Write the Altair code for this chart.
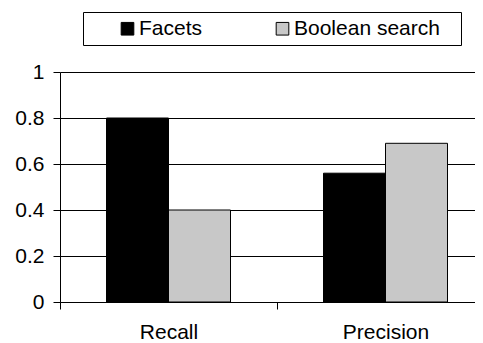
import altair as alt
import pandas as pd

categories = ["Recall", "Precision"]
series = ["Facets", "Boolean search"]
facets_values = [0.80, 0.56]
boolean_values = [0.40, 0.69]
y_ticks = [0, 0.2, 0.4, 0.6, 0.8, 1]
colors = ["#000000", "#c8c8c8"]

rows = []
for cat, f, b in zip(categories, facets_values, boolean_values):
    rows.append({"measure": cat, "method": series[0], "value": f})
    rows.append({"measure": cat, "method": series[1], "value": b})
df = pd.DataFrame(rows)

FONT = "Liberation Sans"
FS = 21

chart = (
    alt.Chart(df)
    .mark_bar(stroke="black", strokeWidth=1)
    .encode(
        x=alt.X(
            "measure:N",
            sort=categories,
            scale=alt.Scale(paddingInner=0, paddingOuter=0, range=[0, 434]),
            axis=alt.Axis(
                title=None,
                labelAngle=0,
                tickBand="extent",
                tickSize=7,
                labelBaseline="alphabetic",
                labelPadding=29,
                grid=False,
            ),
        ),
        xOffset=alt.XOffset(
            "method:N",
            sort=series,
            scale=alt.Scale(paddingInner=0, paddingOuter=0.75),
        ),
        y=alt.Y(
            "value:Q",
            scale=alt.Scale(domain=[0, 1], nice=False),
            axis=alt.Axis(
                title=None,
                values=y_ticks,
                format=".1~f",
                tickSize=7,
                labelPadding=9,
                grid=True,
                gridColor="black",
                gridOpacity=1,
                gridWidth=1,
            ),
        ),
        color=alt.Color(
            "method:N",
            sort=series,
            scale=alt.Scale(domain=series, range=colors),
            legend=alt.Legend(
                orient="none",
                legendX=23,
                legendY=-60,
                direction="horizontal",
                columns=2,
                title="\u00a0",
                titleOrient="left",
                titleFontSize=FS,
                titlePadding=28,
                symbolType="square",
                symbolSize=160,
                symbolStrokeColor="black",
                symbolStrokeWidth=1,
                labelFontSize=FS,
                labelFont=FONT,
                labelColor="black",
                labelOffset=1,
                labelLimit=400,
                labelExpr="datum.label == 'Boolean search' ? datum.label + '\u2800' : datum.label",
                columnPadding=69,
                padding=6,
                strokeColor="black",
                fillColor="white",
            ),
        ),
    )
    .properties(
        width=415,
        height=230,
        background="white",
        autosize=alt.AutoSizeParams(type="none"),
        padding={"left": 52, "top": 64, "right": 0, "bottom": 41},
    )
    .configure_view(stroke=None)
    .configure_axis(
        domainColor="black",
        tickColor="black",
        labelColor="black",
        labelFont=FONT,
        labelFontSize=FS,
    )
)

chart.save("out.html", embed_options={"renderer": "svg", "actions": False})
